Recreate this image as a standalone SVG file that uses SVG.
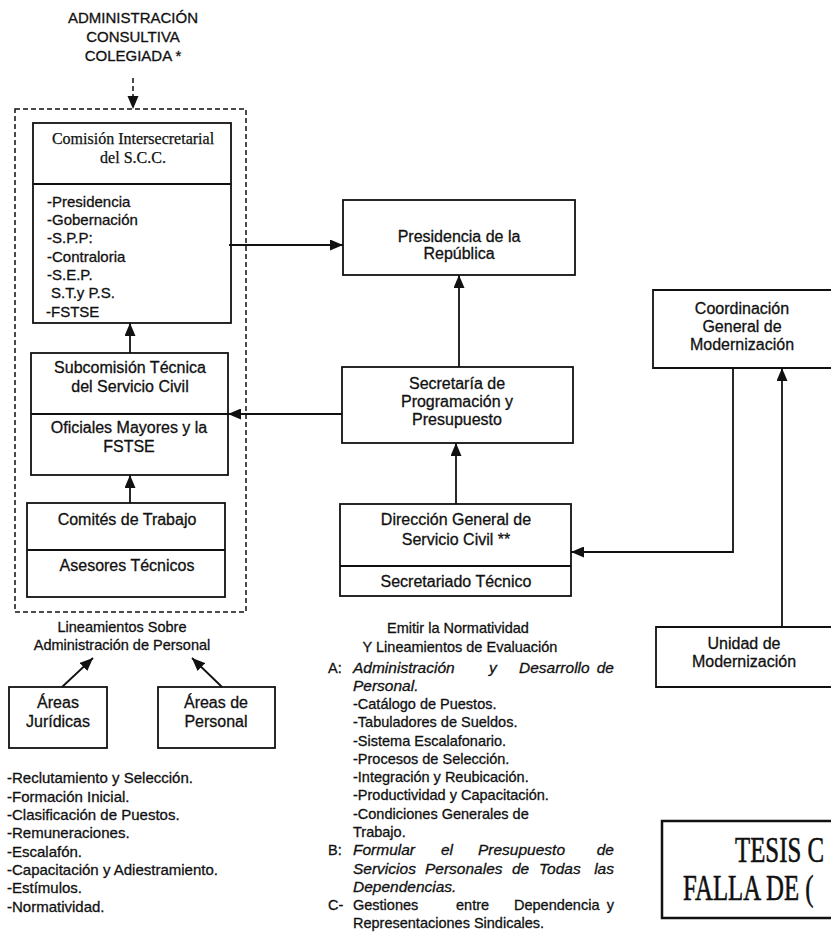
<svg xmlns="http://www.w3.org/2000/svg" width="831" height="934" viewBox="0 0 831 934">
<style>
.box{fill:#fff;stroke:#111;stroke-width:1.8}
.ln{fill:none;stroke:#111;stroke-width:1.8}
.dash{fill:none;stroke:#111;stroke-width:1.5;stroke-dasharray:5 3}
.s{font-family:"Liberation Sans",Arial,Helvetica,sans-serif;font-size:14.5px;fill:#111;stroke:#111;stroke-width:0.3}
.b{font-size:16px}
.l{font-size:15px}
.c{text-anchor:middle}
.e{text-anchor:end}
.i{font-style:italic;font-size:15.5px}
.sf{font-family:"Liberation Serif","Times New Roman",serif;font-size:16px;fill:#111;stroke:#111;stroke-width:0.25}
.st{font-family:"Liberation Serif","Times New Roman",serif;font-size:36px;fill:#111;stroke:#111;stroke-width:0.6}
</style>
<defs>
<marker id="ah" markerUnits="userSpaceOnUse" markerWidth="13" markerHeight="11" refX="13" refY="5.5" orient="auto">
<path d="M0,0 L13,5.5 L0,11 z" fill="#111"/>
</marker>
</defs>

<g id="header">
<text class="s c" style="font-size:15px" x="133" y="23">ADMINISTRACIÓN</text>
<text class="s c" style="font-size:15px" x="133" y="42">CONSULTIVA</text>
<text class="s c" style="font-size:15px" x="133" y="61">COLEGIADA *</text>
</g>

<g id="consultiva-group">
<rect class="dash" x="15" y="109" width="231" height="503"/>
</g>

<g id="comision">
<rect class="box" x="33" y="123" width="198" height="200"/>
<line class="ln" x1="33" y1="184" x2="231" y2="184"/>
<text class="sf c" x="133" y="144">Comisión Intersecretarial</text>
<text class="sf c" x="133" y="163">del S.C.C.</text>
<text class="s l" x="47" y="207">-Presidencia</text>
<text class="s l" x="47" y="225">-Gobernación</text>
<text class="s l" x="47" y="243">-S.P.P:</text>
<text class="s l" x="47" y="262">-Contraloria</text>
<text class="s l" x="47" y="280">-S.E.P.</text>
<text class="s l" x="51" y="298">S.T.y P.S.</text>
<text class="s l" x="46" y="317">-FSTSE</text>
</g>

<g id="subcomision">
<rect class="box" x="31" y="353" width="197" height="122"/>
<line class="ln" x1="31" y1="414" x2="228" y2="414"/>
<text class="s b c" x="130" y="373">Subcomisión Técnica</text>
<text class="s b c" x="130" y="392">del Servicio Civil</text>
<text class="s b c" x="129" y="433">Oficiales Mayores y la</text>
<text class="s b c" x="129" y="452">FSTSE</text>
</g>

<g id="comites">
<rect class="box" x="27" y="503" width="198" height="94"/>
<line class="ln" x1="27" y1="550" x2="225" y2="550"/>
<text class="s b c" x="127" y="525">Comités de Trabajo</text>
<text class="s b c" x="127" y="571">Asesores Técnicos</text>
</g>

<g id="lineamientos">
<text class="s c" x="122" y="632">Lineamientos Sobre</text>
<text class="s c" x="122" y="650">Administración de Personal</text>
</g>

<g id="areas-juridicas">
<rect class="box" x="9" y="687" width="98" height="61"/>
<text class="s b c" x="58" y="708">Áreas</text>
<text class="s b c" x="58" y="727">Jurídicas</text>
</g>

<g id="areas-personal">
<rect class="box" x="158" y="687" width="117" height="61"/>
<text class="s b c" x="216" y="708">Áreas de</text>
<text class="s b c" x="216" y="727">Personal</text>
</g>

<g id="funciones-list">
<text class="s l" x="7" y="783">-Reclutamiento y Selección.</text>
<text class="s l" x="7" y="802">-Formación Inicial.</text>
<text class="s l" x="7" y="820">-Clasificación de Puestos.</text>
<text class="s l" x="7" y="838">-Remuneraciones.</text>
<text class="s l" x="7" y="857">-Escalafón.</text>
<text class="s l" x="7" y="875">-Capacitación y Adiestramiento.</text>
<text class="s l" x="7" y="893">-Estímulos.</text>
<text class="s l" x="7" y="912">-Normatividad.</text>
</g>

<g id="presidencia">
<rect class="box" x="343" y="200" width="232" height="75"/>
<text class="s b c" x="459" y="242">Presidencia de la</text>
<text class="s b c" x="459" y="259">República</text>
</g>

<g id="spp">
<rect class="box" x="342" y="367" width="231" height="76"/>
<text class="s b c" x="457" y="389">Secretaría de</text>
<text class="s b c" x="457" y="407">Programación y</text>
<text class="s b c" x="457" y="425">Presupuesto</text>
</g>

<g id="dgsc">
<rect class="box" x="340" y="504" width="231" height="92"/>
<line class="ln" x1="340" y1="566" x2="571" y2="566"/>
<text class="s b c" x="456" y="525">Dirección General de</text>
<text class="s b c" x="456" y="545">Servicio Civil **</text>
<text class="s b c" x="456" y="587">Secretariado Técnico</text>
</g>

<g id="normatividad">
<text class="s c" x="458" y="633">Emitir la Normatividad</text>
<text class="s c" x="460" y="652">Y Lineamientos de Evaluación</text>
<text class="s" x="328" y="673">A:</text>
<text class="s i" x="353" y="673">Administración</text>
<text class="s i" x="489" y="673">y</text>
<text class="s i" x="519" y="673">Desarrollo</text>
<text class="s i e" x="614" y="673">de</text>
<text class="s i" x="353" y="691">Personal.</text>
<text class="s" x="353" y="709">-Catálogo de Puestos.</text>
<text class="s" x="353" y="727">-Tabuladores de Sueldos.</text>
<text class="s" x="353" y="746">-Sistema Escalafonario.</text>
<text class="s" x="353" y="764">-Procesos de Selección.</text>
<text class="s" x="353" y="782">-Integración y Reubicación.</text>
<text class="s" x="353" y="800">-Productividad y Capacitación.</text>
<text class="s" x="353" y="819">-Condiciones Generales de</text>
<text class="s" x="353" y="837">Trabajo.</text>
<text class="s" x="328" y="855">B:</text>
<text class="s i" x="353" y="855">Formular</text>
<text class="s i" x="441" y="855">el</text>
<text class="s i" x="478" y="855">Presupuesto</text>
<text class="s i e" x="614" y="855">de</text>
<text class="s i" x="353" y="874">Servicios</text>
<text class="s i" x="425" y="874">Personales</text>
<text class="s i" x="512" y="874">de</text>
<text class="s i" x="539" y="874">Todas</text>
<text class="s i e" x="614" y="874">las</text>
<text class="s i" x="353" y="892">Dependencias.</text>
<text class="s" x="328" y="910">C-</text>
<text class="s" x="353" y="910">Gestiones</text>
<text class="s" x="456" y="910">entre</text>
<text class="s" x="514" y="910">Dependencia</text>
<text class="s e" x="614" y="910">y</text>
<text class="s" x="353" y="928">Representaciones Sindicales.</text>
</g>

<g id="coordinacion">
<path class="ln" d="M831,290 H653 V368 H831"/>
<text class="s b c" x="742" y="314">Coordinación</text>
<text class="s b c" x="742" y="332">General de</text>
<text class="s b c" x="742" y="350">Modernización</text>
</g>

<g id="unidad">
<path class="ln" d="M831,627 H656 V687 H831"/>
<text class="s b c" x="744" y="649">Unidad de</text>
<text class="s b c" x="744" y="667">Modernización</text>
</g>

<g id="stamp">
<path d="M831,821 H662 V918 H831" fill="none" stroke="#111" stroke-width="2.5"/>
<text class="st" transform="translate(735,862) scale(0.69,1)" x="0" y="0">TESIS C</text>
<text class="st" transform="translate(683,900) scale(0.69,1)" x="0" y="0">FALLA DE (</text>
</g>

<g id="connectors">
<line class="dash" x1="133" y1="78" x2="133" y2="96"/>
<path d="M127.5,96 L138.5,96 L133,109 z" fill="#111"/>
<line class="ln" x1="229" y1="245" x2="343" y2="245" marker-end="url(#ah)"/>
<line class="ln" x1="130" y1="353" x2="130" y2="323" marker-end="url(#ah)"/>
<line class="ln" x1="342" y1="414" x2="228" y2="414" marker-end="url(#ah)"/>
<line class="ln" x1="130" y1="503" x2="130" y2="475" marker-end="url(#ah)"/>
<line class="ln" x1="62" y1="687" x2="93" y2="658" marker-end="url(#ah)"/>
<line class="ln" x1="222" y1="687" x2="192" y2="658" marker-end="url(#ah)"/>
<line class="ln" x1="459" y1="367" x2="459" y2="275" marker-end="url(#ah)"/>
<line class="ln" x1="456" y1="504" x2="456" y2="443" marker-end="url(#ah)"/>
<path class="ln" d="M733,368 V552 H571" marker-end="url(#ah)"/>
<line class="ln" x1="782" y1="627" x2="782" y2="368" marker-end="url(#ah)"/>
</g>
</svg>
